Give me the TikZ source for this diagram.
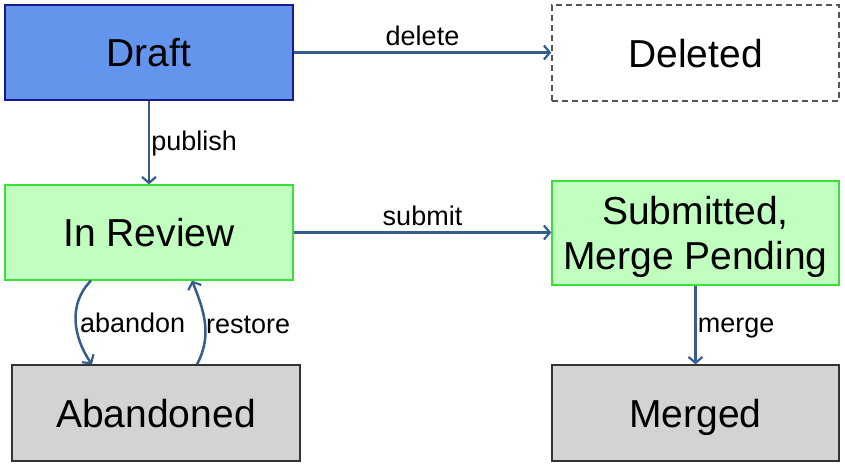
\documentclass[tikz,border=0pt]{standalone}
\usepackage{fontspec}
\setmainfont{Liberation Sans}
\usetikzlibrary{arrows.meta}
\definecolor{arr}{HTML}{365C8D}
\definecolor{draftfill}{HTML}{6495ED}
\definecolor{draftline}{HTML}{1A1A8C}
\definecolor{greenfill}{HTML}{C0FFC0}
\definecolor{greenline}{HTML}{3ADF3A}
\definecolor{grayfill}{HTML}{D3D3D3}
\definecolor{grayline}{HTML}{333333}
\definecolor{dashline}{HTML}{555555}
\tikzset{
  statebox/.style={draw, line width=1.3pt, minimum width=288pt, minimum height=95pt, inner sep=0pt, align=center, text depth=0pt, font=\fontsize{39}{45}\selectfont},
  draftbox/.style={statebox, fill=draftfill, draw=draftline},
  delbox/.style={statebox, draw=dashline, dash pattern=on 6pt off 4pt},
  greenbox/.style={statebox, fill=greenfill, draw=greenline},
  graybox/.style={statebox, fill=grayfill, draw=grayline},
  conn/.style={draw=arr, line width=2.5pt, -{Straight Barb[length=6pt,width=14pt,line width=2.2pt]}},
  lbl/.style={font=\fontsize{27}{30}\selectfont, inner sep=2pt}
}
\begin{document}
\begin{tikzpicture}[x=1pt,y=-1pt]
\useasboundingbox (0,0) rectangle (845,467);
\node[draftbox] (draft) at (149,52.5) {Draft};
\node[delbox, minimum width=287pt, minimum height=96pt] (deleted) at (695.5,53) {Deleted};
\node[greenbox] (review) at (149,232.5) {In Review};
\node[greenbox, minimum width=287pt, minimum height=104pt] (submitted) at (695.5,233) {Submitted,\\Merge Pending};
\node[graybox, minimum height=96pt] (abandoned) at (156,413) {Abandoned};
\node[graybox, minimum width=287pt, minimum height=96pt] (merged) at (695.5,413) {Merged};

\draw[conn] (draft.east) -- (draft.east -| deleted.west) node[lbl, midway, above=3pt] {delete};
\draw[conn] (draft.south) -- (review.north) node[lbl, midway, right=-1pt, yshift=-1pt] {publish};
\draw[conn] (review.east) -- (review.east -| submitted.west) node[lbl, midway, above=3pt] {submit};
\draw[conn] (submitted.south) -- (merged.north) node[lbl, midway, right=-1pt, yshift=-3pt] {merge};

\coordinate (abS) at ([xshift=-58pt]review.south);
\coordinate (abE) at ([xshift=-64pt]abandoned.north);
\coordinate (reS) at ([xshift=41pt]abandoned.north);
\coordinate (reE) at ([xshift=43pt]review.south);
\draw[conn] (abS) to[out=-135, in=125] node[lbl, pos=0.5, right=1pt, yshift=-2pt] {abandon} (abE);
\draw[conn] (reS) to[out=62, in=-68] node[lbl, pos=0.5, right=-2pt, yshift=-2pt] {restore} (reE);
\end{tikzpicture}
\end{document}
